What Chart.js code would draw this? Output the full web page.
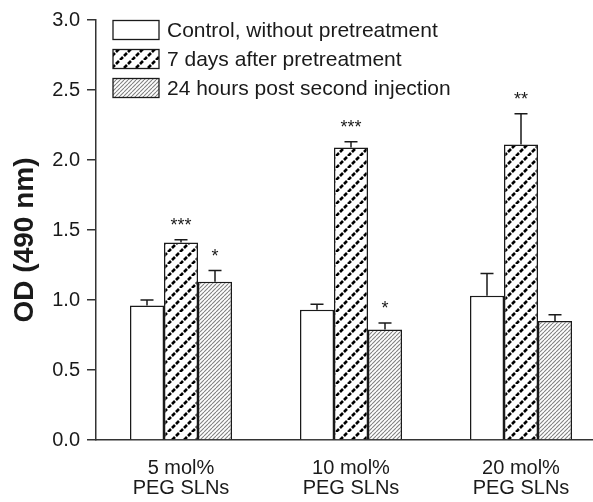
<!DOCTYPE html>
<html>
<head>
<meta charset="utf-8">
<script src="https://cdn.jsdelivr.net/npm/chart.js@4.4.0/dist/chart.umd.min.js"></script>
<style>
  html, body { margin: 0; padding: 0; background: #fff; overflow: hidden; }
  #chart { display: block; }
</style>
</head>
<body>
<!-- the original plot runs a little past the right edge, so the canvas is wider than the window -->
<canvas id="chart" width="606" height="502"></canvas>
<script>
// data
const categories = [['5 mol%', 'PEG SLNs'], ['10 mol%', 'PEG SLNs'], ['20 mol%', 'PEG SLNs']];
const seriesLabels = ['Control, without pretreatment', '7 days after pretreatment', '24 hours post second injection'];
const controlValues = [0.96, 0.93, 1.03];
const controlErrors = [0.04, 0.04, 0.16];
const sevenDayValues = [1.41, 2.09, 2.11];
const sevenDayErrors = [0.02, 0.04, 0.22];
const secondDoseValues = [1.13, 0.79, 0.85];
const secondDoseErrors = [0.08, 0.045, 0.045];
const controlStars = ['', '', ''];
const sevenDayStars = ['***', '***', '**'];
const secondDoseStars = ['*', '*', ''];
const yTicks = [0, 0.5, 1.0, 1.5, 2.0, 2.5, 3.0];
const yTitle = 'OD (490 nm)';

const FONT = '"Liberation Sans", Arial, Helvetica, sans-serif';
const INK = '#1a1a1a';

// thick dashed diagonal hatch (7 days)
const makeDashPattern = () => {
    const size = 12;
    const c = document.createElement('canvas');
    c.width = c.height = size;
    const g = c.getContext('2d');
    g.fillStyle = '#fff';
    g.fillRect(0, 0, size, size);
    g.strokeStyle = '#000';
    g.lineWidth = 2.6;
    g.setLineDash([4.2, 1.457]);
    for (let k = -1; k <= 1; k++) {
        g.beginPath();
        g.moveTo(k * size, size);
        g.lineTo(k * size + size, 0);
        g.stroke();
    }
    return g.createPattern(c, 'repeat');
};

// fine grey diagonal hatch (24 h)
const makeFinePattern = () => {
    const size = 4;
    const c = document.createElement('canvas');
    c.width = c.height = size;
    const g = c.getContext('2d');
    g.fillStyle = '#fff';
    g.fillRect(0, 0, size, size);
    g.strokeStyle = '#808080';
    g.lineWidth = 1.1;
    for (let k = -1; k <= 1; k++) {
        g.beginPath();
        g.moveTo(k * size, size);
        g.lineTo(k * size + size, 0);
        g.stroke();
    }
    return g.createPattern(c, 'repeat');
};

const fills = ['#fff', makeDashPattern(), makeFinePattern()];
const errors = [controlErrors, sevenDayErrors, secondDoseErrors];
const stars = [controlStars, sevenDayStars, secondDoseStars];

// error bars, significance stars, legend box and the y title
const extrasPlugin = {
    id: 'extras',
    afterDatasetsDraw(chart) {
        const { ctx } = chart;
        const y = chart.scales.y;
        ctx.save();
        chart.data.datasets.forEach((ds, i) => {
            const meta = chart.getDatasetMeta(i);
            meta.data.forEach((bar, j) => {
                const topPx = y.getPixelForValue(ds.data[j] + errors[i][j]);
                const barTop = y.getPixelForValue(ds.data[j]);
                ctx.strokeStyle = INK;
                ctx.lineWidth = 1.5;
                ctx.beginPath();
                ctx.moveTo(bar.x, barTop);
                ctx.lineTo(bar.x, topPx);
                ctx.moveTo(bar.x - 6.5, topPx);
                ctx.lineTo(bar.x + 6.5, topPx);
                ctx.stroke();
                if (stars[i][j]) {
                    ctx.fillStyle = INK;
                    ctx.font = `18px ${FONT}`;
                    ctx.textAlign = 'center';
                    ctx.textBaseline = 'alphabetic';
                    ctx.fillText(stars[i][j], bar.x, topPx - 9);
                }
            });
        });

        // legend
        const boxX = 113, boxW = 46, boxH = 19;
        const rows = [30, 59, 88];
        seriesLabels.forEach((label, i) => {
            const cy = rows[i];
            ctx.fillStyle = fills[i];
            ctx.fillRect(boxX, cy - boxH / 2, boxW, boxH);
            ctx.strokeStyle = INK;
            ctx.lineWidth = 1.3;
            ctx.strokeRect(boxX, cy - boxH / 2, boxW, boxH);
            ctx.fillStyle = INK;
            ctx.font = `21px ${FONT}`;
            ctx.textAlign = 'left';
            ctx.textBaseline = 'middle';
            ctx.fillText(label, 167, cy + 1);
        });

        // y axis title, a bit below the middle of the axis like the original
        ctx.translate(25, 240);
        ctx.rotate(-Math.PI / 2);
        ctx.fillStyle = INK;
        ctx.font = `bold 28px ${FONT}`;
        ctx.textAlign = 'center';
        ctx.textBaseline = 'middle';
        ctx.fillText(yTitle, 0, 0);
        ctx.restore();
    }
};

const makeDataset = (label, values, fill) => ({
    label,
    data: values,
    backgroundColor: fill,
    borderColor: INK,
    borderWidth: 1.5,
    borderSkipped: 'bottom',
    categoryPercentage: 0.6,
    barPercentage: 1.0
});

new Chart(document.getElementById('chart'), {
    type: 'bar',
    data: {
        labels: categories,
        datasets: [
            makeDataset(seriesLabels[0], controlValues, fills[0]),
            makeDataset(seriesLabels[1], sevenDayValues, fills[1]),
            makeDataset(seriesLabels[2], secondDoseValues, fills[2])
        ]
    },
    options: {
        responsive: false,
        animation: false,
        devicePixelRatio: 1,
        layout: { padding: { top: 20, right: 0, left: 0, bottom: 0 } },
        plugins: {
            legend: { display: false },
            tooltip: { enabled: false }
        },
        scales: {
            x: {
                grid: { display: true, drawOnChartArea: false, drawTicks: false },
                border: { color: '#333', width: 1.5 },
                ticks: {
                    color: INK,
                    font: { family: FONT, size: 20, lineHeight: 1.0 },
                    padding: 18,
                    maxRotation: 0
                },
                afterFit: scale => { scale.height = 62; }
            },
            y: {
                min: 0,
                max: 3,
                afterBuildTicks: scale => { scale.ticks = yTicks.map(v => ({ value: v })); },
                ticks: {
                    color: INK,
                    font: { family: FONT, size: 20 },
                    padding: 7,
                    callback: v => Number(v).toFixed(1)
                },
                grid: { drawOnChartArea: false, tickLength: 9, color: '#333', lineWidth: 1.5 },
                border: { color: '#333', width: 1.5 },
                title: { display: false },
                afterFit: scale => { scale.width = 96; }
            }
        }
    },
    plugins: [extrasPlugin]
});
</script>
</body>
</html>
